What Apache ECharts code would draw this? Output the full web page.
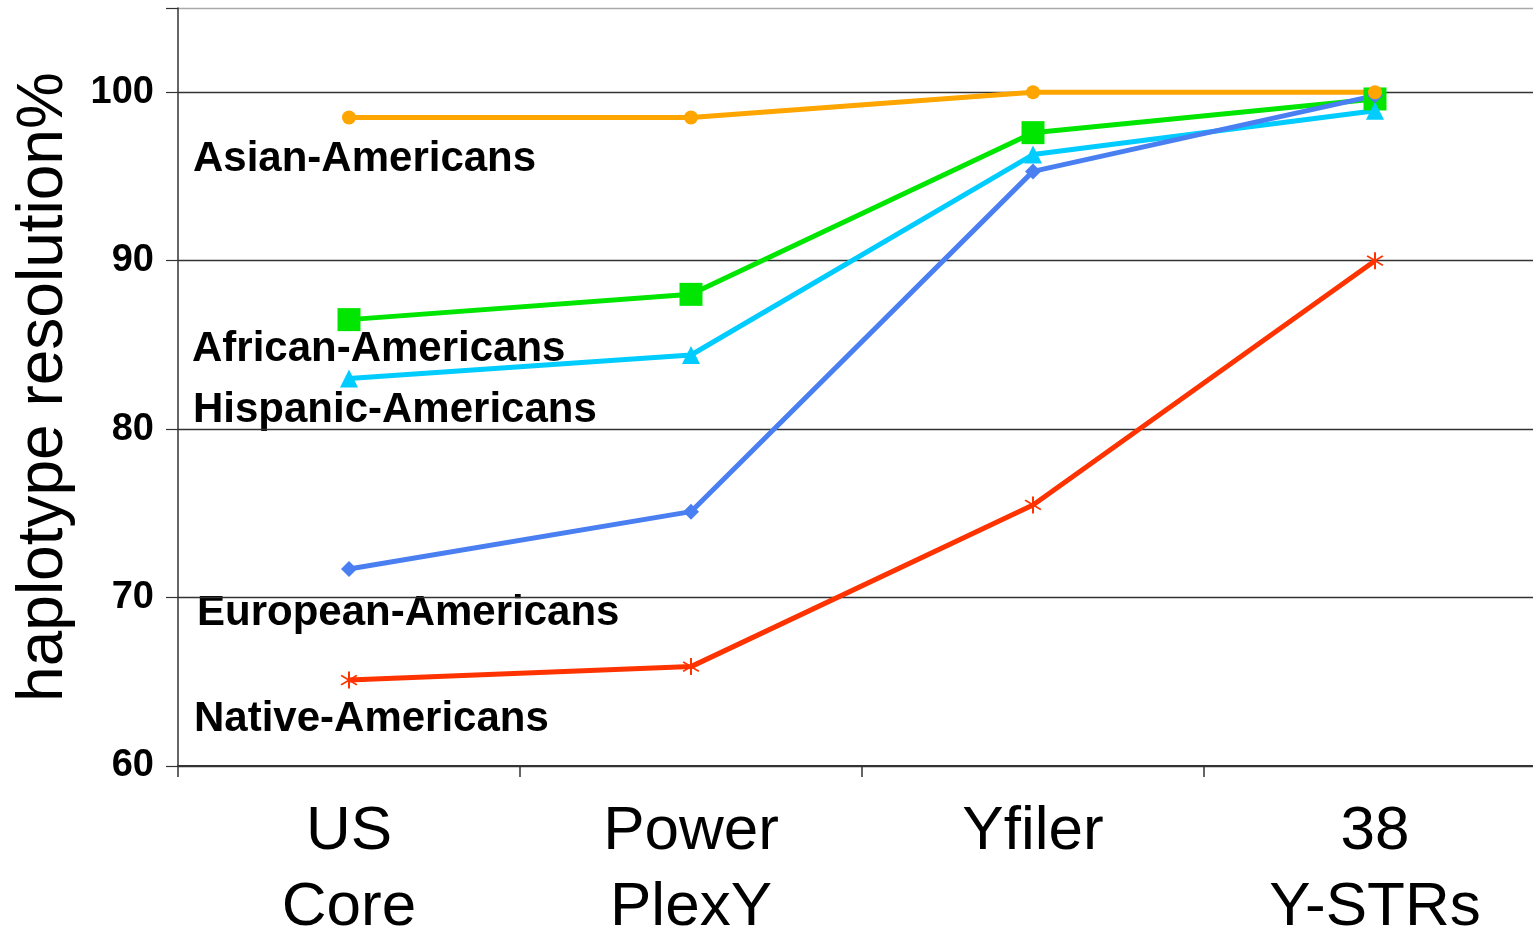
<!DOCTYPE html>
<html>
<head>
<meta charset="utf-8">
<script src="https://cdn.jsdelivr.net/npm/echarts@6/dist/echarts.min.js"></script>
<style>
  html, body { margin: 0; padding: 0; background: #fff; }
  #main { width: 1533px; height: 930px; }
</style>
</head>
<body>
<div id="main"></div>
<script>
// kits on the x axis
var kits = ['US\nCore', 'Power\nPlexY', 'Yfiler', '38\nY-STRs'];

// haplotype resolution % per population
var asian = [98.5, 98.5, 100, 100];
var african = [86.5, 88.0, 97.6, 99.6];
var hispanic = [83.0, 84.4, 96.3, 98.9];
var european = [71.7, 75.1, 95.3, 99.8];
var native = [65.1, 65.9, 75.5, 90.0];

var yTicks = [60, 70, 80, 90, 100];

var font = '"Liberation Sans", Arial, sans-serif';
var star = 'path://M9 0L11 0L11 20L9 20Z M1.5 5.2L2.7 3.6L18.5 14.8L17.3 16.4Z M17.3 3.6L18.5 5.2L2.7 16.4L1.5 14.8Z';

var chart = echarts.init(document.getElementById('main'));

function line(name, data, color, symbol, size) {
  return {
    name: name,
    type: 'line',
    data: data,
    symbol: symbol,
    symbolSize: size,
    showSymbol: true,
    lineStyle: { color: color, width: 5 },
    itemStyle: { color: color },
    emphasis: { disabled: true }
  };
}

// text labels next to each curve
function tag(text, x, y) {
  return {
    type: 'text',
    left: x,
    top: y,
    style: {
      text: text,
      font: 'bold 42px ' + font,
      fill: '#000'
    }
  };
}

var option = {
  animation: false,
  grid: { left: 178, top: 8, width: 1368, height: 758, containLabel: false, outerBoundsMode: 'none' },
  xAxis: {
    type: 'category',
    data: kits,
    boundaryGap: true,
    axisLine: { lineStyle: { color: '#333', width: 2 } },
    axisTick: { show: true, length: 11, lineStyle: { color: '#333', width: 1.5 } },
    axisLabel: {
      color: '#000',
      fontFamily: font,
      fontSize: 62,
      lineHeight: 76,
      margin: 28
    },
    splitLine: { show: false }
  },
  yAxis: {
    type: 'value',
    min: yTicks[0],
    max: 105,
    interval: 10,
    name: 'haplotype resolution%',
    nameLocation: 'middle',
    nameGap: 102,
    nameTextStyle: { color: '#000', fontFamily: font, fontSize: 64 },
    axisLine: { show: true, lineStyle: { color: '#333', width: 1.5 } },
    axisTick: { show: true, length: 12, lineStyle: { color: '#333', width: 1.2 } },
    axisLabel: {
      color: '#000',
      fontFamily: font,
      fontWeight: 'bold',
      fontSize: 38,
      margin: 24,
      padding: [10, 0, 0, 0],
      formatter: function (v) { return yTicks.indexOf(v) >= 0 ? String(v) : ''; }
    },
    splitLine: {
      show: true,
      lineStyle: { color: ['#333', '#333', '#333', '#333', '#333', '#aaa'], width: 1.3 }
    }
  },
  series: [
    line('African-Americans', african, '#00e600', 'rect', 23),
    line('Hispanic-Americans', hispanic, '#00ccff', 'triangle', 18),
    line('European-Americans', european, '#4a7ff2', 'diamond', 16),
    line('Native-Americans', native, '#ff3300', star, 17),
    line('Asian-Americans', asian, '#ffa500', 'circle', 14)
  ],
  graphic: [
    tag('Asian-Americans', 193, 138),
    tag('African-Americans', 192, 328),
    tag('Hispanic-Americans', 193, 389),
    tag('European-Americans', 197, 592),
    tag('Native-Americans', 194, 698)
  ]
};

chart.setOption(option);
</script>
</body>
</html>
